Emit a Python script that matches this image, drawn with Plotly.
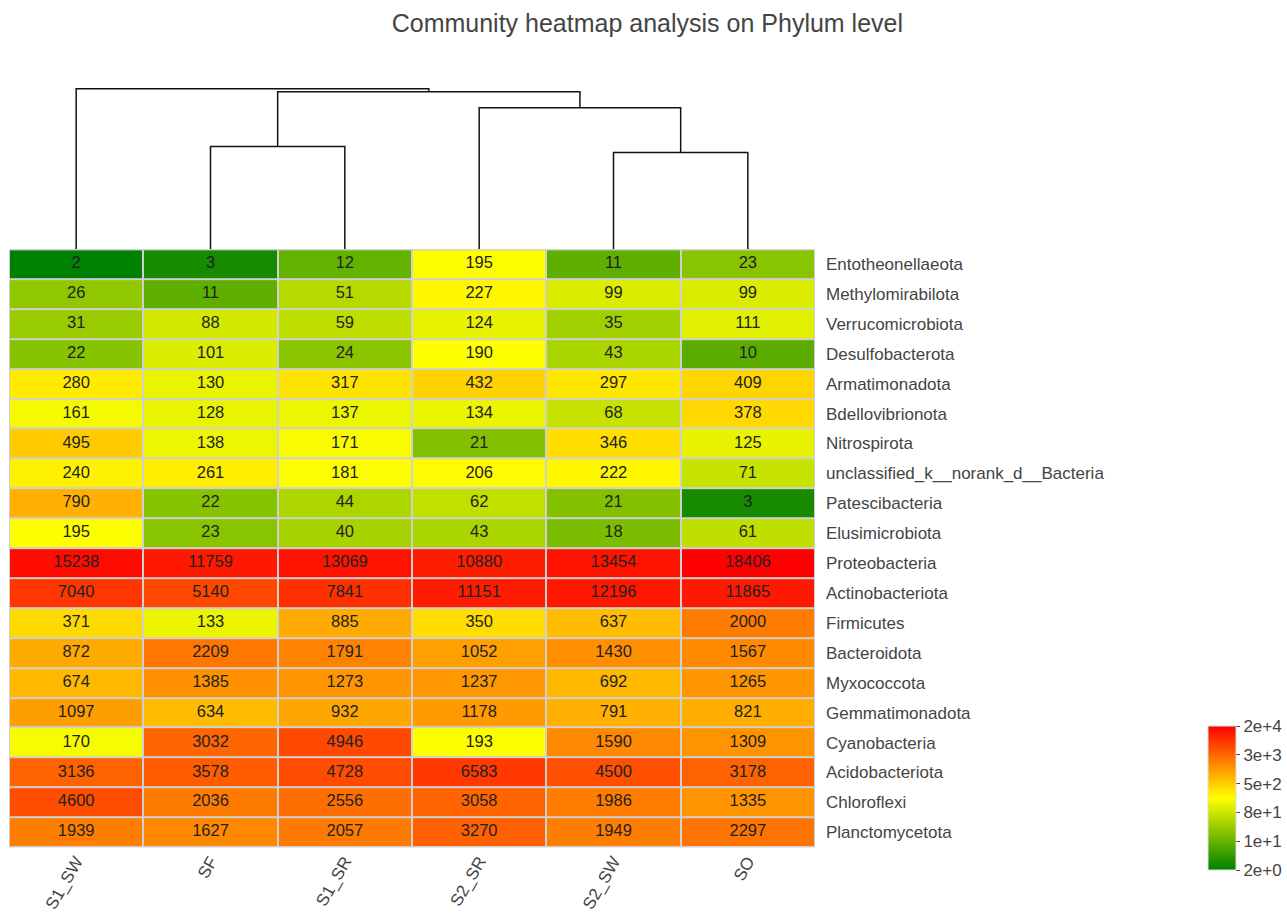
import numpy as np
import plotly.graph_objects as go

samples = ["S1_SW", "SF", "S1_SR", "S2_SR", "S2_SW", "SO"]
phyla = ["Entotheonellaeota", "Methylomirabilota", "Verrucomicrobiota", "Desulfobacterota",
         "Armatimonadota", "Bdellovibrionota", "Nitrospirota", "unclassified_k__norank_d__Bacteria",
         "Patescibacteria", "Elusimicrobiota", "Proteobacteria", "Actinobacteriota", "Firmicutes",
         "Bacteroidota", "Myxococcota", "Gemmatimonadota", "Cyanobacteria", "Acidobacteriota",
         "Chloroflexi", "Planctomycetota"]
values = [
    [2, 3, 12, 195, 11, 23],
    [26, 11, 51, 227, 99, 99],
    [31, 88, 59, 124, 35, 111],
    [22, 101, 24, 190, 43, 10],
    [280, 130, 317, 432, 297, 409],
    [161, 128, 137, 134, 68, 378],
    [495, 138, 171, 21, 346, 125],
    [240, 261, 181, 206, 222, 71],
    [790, 22, 44, 62, 21, 3],
    [195, 23, 40, 43, 18, 61],
    [15238, 11759, 13069, 10880, 13454, 18406],
    [7040, 5140, 7841, 11151, 12196, 11865],
    [371, 133, 885, 350, 637, 2000],
    [872, 2209, 1791, 1052, 1430, 1567],
    [674, 1385, 1273, 1237, 692, 1265],
    [1097, 634, 932, 1178, 791, 821],
    [170, 3032, 4946, 193, 1590, 1309],
    [3136, 3578, 4728, 6583, 4500, 3178],
    [4600, 2036, 2556, 3058, 1986, 1335],
    [1939, 1627, 2057, 3270, 1949, 2297],
]
# dendrogram merges: (left, right, new cluster name, height)
dendro_merges = [
    ("S2_SW", "SO", "c1", 97),
    ("SF", "S1_SR", "c2", 103),
    ("S2_SR", "c1", "c3", 142),
    ("c2", "c3", "c4", 158),
    ("S1_SW", "c4", "root", 161),
]

W, H = 1287, 913
FONT = "Arial, Liberation Sans, sans-serif"
vals = np.array(values, dtype=float)
z = np.log10(vals)
zmin, zmax = z.min(), z.max()

nrow = len(phyla)
ncol = len(samples)
xs = list(range(ncol))
ys = list(range(nrow))[::-1]  # first row on top

fig = go.Figure()

fig.add_trace(go.Heatmap(
    z=z, x=xs, y=ys,
    colorscale=[[0, "#008000"], [0.5, "#FFFF00"], [1, "#FF0000"]],
    zmin=zmin, zmax=zmax,
    xgap=2, ygap=2,
    hoverinfo="skip",
    colorbar=dict(
        x=1208 / W, xanchor="left", xpad=0,
        y=1 - 873 / H, yanchor="bottom", ypad=0,
        len=144 / H, lenmode="fraction",
        thickness=28, thicknessmode="pixels",
        outlinewidth=1, outlinecolor="#DDDDDD",
        tickvals=list(np.linspace(zmin, zmax, 6)),
        ticktext=[("%.0e" % (10 ** t)).replace("e+0", "e+") for t in np.linspace(zmin, zmax, 6)],
        ticks="outside", ticklen=4, tickcolor="#444444",
        tickfont=dict(size=17, color="#444444", family=FONT),
    ),
    xaxis="x", yaxis="y",
))

# cell labels
tx, ty, tt = [], [], []
for i, row in enumerate(values):
    for j, v in enumerate(row):
        tx.append(xs[j]); ty.append(ys[i]); tt.append(str(int(v)))
fig.add_trace(go.Scatter(x=tx, y=ty, text=tt, mode="text",
                         textfont=dict(size=16.5, color="#222222", family=FONT),
                         hoverinfo="skip", showlegend=False, xaxis="x", yaxis="y"))

# dendrogram
pos = {s: (i, 0.0) for i, s in enumerate(samples)}
dx, dy = [], []
for a, b, name, h in dendro_merges:
    xa, ha = pos[a]
    xb, hb = pos[b]
    dx += [xa, xa, xb, xb, None]
    dy += [ha, h, h, hb, None]
    pos[name] = ((xa + xb) / 2, h)
fig.add_trace(go.Scatter(x=dx, y=dy, mode="lines", line=dict(color="#111111", width=1.5),
                         hoverinfo="skip", showlegend=False, xaxis="x2", yaxis="y2"))

xdom = [9 / W, 815 / W]
fig.update_layout(
    width=W, height=H,
    margin=dict(l=0, r=0, t=0, b=0),
    paper_bgcolor="white",
    plot_bgcolor="rgba(0,0,0,0)",
    showlegend=False,
    title=dict(text="Community heatmap analysis on Phylum level", x=0.503, xanchor="center",
               y=1 - 23 / H, yanchor="middle",
               font=dict(size=25, color="#444444", family=FONT)),
    xaxis=dict(domain=xdom, range=[-0.5, ncol - 0.5], tickvals=xs, ticktext=samples,
               tickangle=-60, showgrid=False, zeroline=False, showline=False, ticks="",
               tickfont=dict(size=17, color="#444444", family=FONT)),
    yaxis=dict(domain=[1 - 850 / H, 1 - 250 / H], range=[-0.5, nrow - 0.5], tickvals=ys,
               ticktext=phyla, side="right", showgrid=False, zeroline=False, ticks="",
               ticklabelstandoff=10,
               tickfont=dict(size=17, color="#444444", family=FONT)),
    xaxis2=dict(domain=xdom, range=[-0.5, ncol - 0.5], visible=False, anchor="y2"),
    yaxis2=dict(domain=[1 - 250 / H, 1 - 60 / H], range=[0, 190 * 161 / (250 - 89)],
                visible=False, anchor="x2"),
)
fig.add_shape(type="rect", xref="x", yref="y", x0=-0.5, x1=ncol - 0.5,
              y0=-0.5, y1=nrow - 0.5, fillcolor="#D0D0D0",
              line=dict(color="#D0D0D0", width=2), layer="below")
fig.add_shape(type="rect", xref="x", yref="y", x0=-0.5, x1=ncol - 0.5,
              y0=-0.5, y1=nrow - 0.5,
              line=dict(color="#D0D0D0", width=2), layer="above")

fig.write_html("out.html")
